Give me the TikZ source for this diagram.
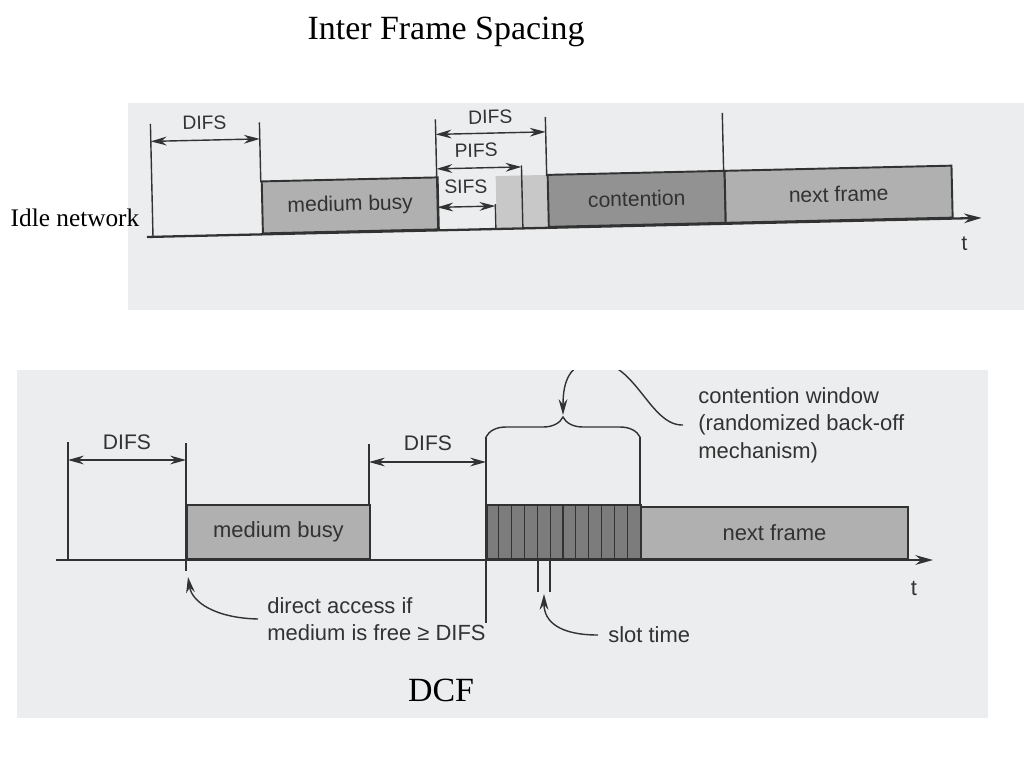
\documentclass[tikz,border=0pt]{standalone}
\usepackage{fontspec}
\setmainfont{Liberation Serif}
\newfontfamily\diagfont{Liberation Sans}
\usetikzlibrary{arrows.meta, decorations.pathreplacing}
\definecolor{panel}{RGB}{236,237,238}
\definecolor{ink}{RGB}{50,50,50}
\definecolor{busyfill}{RGB}{176,176,176}
\definecolor{contfill}{RGB}{146,146,146}
\definecolor{slotfill}{RGB}{124,124,124}
\definecolor{gapfill}{RGB}{200,200,200}
\tikzstyle{heading} = [font=\fontsize{19.3}{22}\selectfont, text=black]
\tikzstyle{sidenote} = [font=\fontsize{14.4}{16}\selectfont, text=black]
\tikzstyle{frame} = [rectangle, anchor=south west, inner sep=0pt, draw=ink, line width=1.1pt, text=ink]
\tikzstyle{toplbl} = [font=\diagfont\fontsize{11}{13}\selectfont, text=ink, inner sep=0pt]
\tikzstyle{botlbl} = [font=\diagfont\fontsize{12.5}{15.6}\selectfont, text=ink, inner sep=0pt]
\tikzstyle{guide} = [ink, line width=0.8pt]
\tikzstyle{span} = [ink, line width=0.8pt, {Stealth[length=9pt,width=5pt]}-{Stealth[length=9pt,width=5pt]}]
\tikzstyle{pointer} = [ink, line width=0.8pt, -{Stealth[length=9pt,width=5pt]}]
\tikzstyle{axis} = [ink, line width=1.3pt, -{Stealth[length=10pt,width=5.5pt]}]

\begin{document}
\begin{tikzpicture}[x=0.02cm, y=-0.02cm]
    \useasboundingbox (0,0) rectangle (1024,768);
    %panels
    \fill [panel] (128,103) rectangle (1024,310);
    \fill [panel] (17,370) rectangle (988,718);

    %titles
    \node (title) [heading] at (446,32) {Inter Frame Spacing};
    \node (idle) [sidenote] at (75,218) {Idle network};
    \node (dcf) [heading] at (441,690) {DCF};

    %inter frame spacing
    \begin{scope}[rotate around={1.31:(147,237)}, transform shape]
    \node (gap1) [frame, draw=none, fill=gapfill, minimum width=1.04cm, minimum height=1.04cm] at (496,237) {};
    \node (busy1) [frame, fill=busyfill, minimum width=3.52cm, minimum height=1.04cm, font=\diagfont\fontsize{12}{14}\selectfont] at (262,237) {medium busy};
    \node (cont1) [frame, fill=contfill, minimum width=3.54cm, minimum height=1.04cm, font=\diagfont\fontsize{12}{14}\selectfont] at (548,237) {contention};
    \node (next1) [frame, fill=busyfill, minimum width=4.54cm, minimum height=1.04cm, font=\diagfont\fontsize{12}{14}\selectfont] at (725,237) {next frame};

    \node (difs1) [toplbl] at (207,124) {DIFS};
    \node (difs2) [toplbl] at (493,125) {DIFS};
    \node (pifs) [toplbl] at (478,158) {PIFS};
    \node (sifs) [toplbl] at (467,194) {SIFS};
    \node (t1) [toplbl, font=\diagfont\fontsize{12}{14}\selectfont] at (964,262) {t};

    \coordinate (ax0) at (147,237);
    \coordinate (ax1) at (982,237);
    \coordinate (d1a) at (153,141.5);
    \coordinate (d1b) at (262,141.5);
    \coordinate (d2a) at (438,141);
    \coordinate (d2b) at (548,141);
    \coordinate (pa) at (438,175.5);
    \coordinate (pb) at (523,175.5);
    \coordinate (sa) at (438,214);
    \coordinate (sb) at (496,214);

    \draw [guide] (153,124) -- (153,237);
    \draw [guide] (262,125) -- (262,185);
    \draw [guide] (438,126) -- (438,237);
    \draw [guide] (548,126) -- (548,185);
    \draw [guide] (725,126) -- (725,185);
    \draw [guide] (523,174) -- (523,237);
    \draw [guide] (496,212) -- (496,237);

    \draw [axis] (ax0) -- (ax1);
    \draw [span] (d1a) -- (d1b);
    \draw [span] (d2a) -- (d2b);
    \draw [span] (pa) -- (pb);
    \draw [span] (sa) -- (sb);
    \end{scope}

    %dcf
    \node (busy2) [frame, fill=busyfill, minimum width=3.66cm, minimum height=1.08cm, font=\diagfont\fontsize{12.5}{15}\selectfont] at (186,560) {medium busy};
    \node (slots) [frame, fill=slotfill, minimum width=3.08cm, minimum height=1.08cm] at (486,560) {};
    \node (next2) [frame, fill=busyfill, minimum width=5.34cm, minimum height=1.04cm, font=\diagfont\fontsize{12.5}{15}\selectfont] at (640,560) {next frame};
    \foreach \i in {1,...,11}
        \draw [guide, line width=0.6pt] ({486+\i*154/12},506) -- ({486+\i*154/12},560);

    \node (difs3) [botlbl, font=\diagfont\fontsize{12}{14}\selectfont] at (127,442) {DIFS};
    \node (difs4) [botlbl, font=\diagfont\fontsize{12}{14}\selectfont] at (428,443) {DIFS};
    \node (cwin) [botlbl, anchor=west, align=left] at (698,425) {contention window\\(randomized back-off\\mechanism)};
    \node (direct) [botlbl, anchor=west, align=left] at (267,619) {direct access if\\medium is free ≥ DIFS};
    \node (slot) [botlbl, anchor=west] at (608,635) {slot time};
    \node (t2) [botlbl] at (914,588) {t};

    \coordinate (bx0) at (56,560);
    \coordinate (bx1) at (933,560);
    \coordinate (d3a) at (68,460);
    \coordinate (d3b) at (186,460);
    \coordinate (d4a) at (369,462);
    \coordinate (d4b) at (486,462);
    \coordinate (cwtip) at (563,415);
    \coordinate (slottip) at (544,594);
    \coordinate (accesstip) at (188,577);

    \draw [guide] (68,442) -- (68,560);
    \draw [guide] (186,443) -- (186,571);
    \draw [guide] (369,444) -- (369,506);
    \draw [guide] (486,437) -- (486,623);
    \draw [guide] (640,437) -- (640,506);
    \draw [guide] (538,560) -- (538,592);
    \draw [guide] (550,560) -- (550,592);
    \draw [guide, decorate, decoration={brace, amplitude=0.4cm}] (486,437) -- (640,437);

    \draw [axis] (bx0) -- (bx1);
    \draw [span] (d3a) -- (d3b);
    \draw [span] (d4a) -- (d4b);
    \begin{scope}
    \clip (17,370) rectangle (988,718);
    \draw [pointer] ([xshift=-0.3cm]cwin.west) .. controls (650,426) and (636,362) .. (596,362) .. controls (569,362) and (563,382) .. (cwtip);
    \end{scope}
    \draw [pointer] ([xshift=-0.2cm]slot.west) .. controls (560,635) and (544,622) .. (slottip);
    \draw [pointer] ([xshift=-0.18cm]direct.west) .. controls (215,618) and (192,602) .. (accesstip);
\end{tikzpicture}
\end{document}
